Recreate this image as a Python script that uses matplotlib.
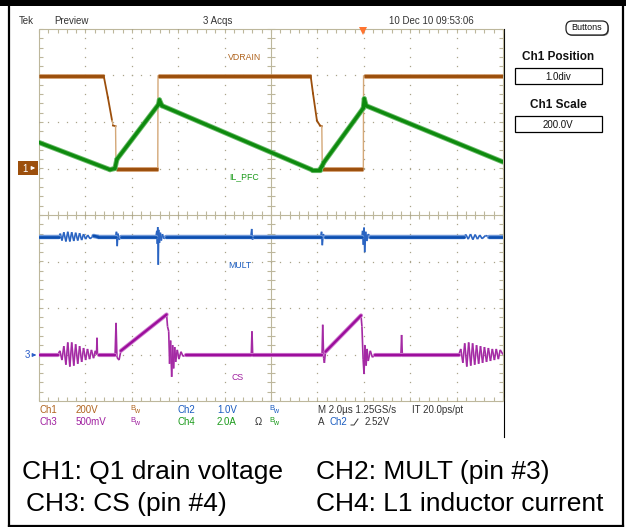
import numpy as np
import matplotlib
matplotlib.use("Agg")
import matplotlib.pyplot as plt
from matplotlib.patches import Rectangle, FancyBboxPatch
from matplotlib.collections import LineCollection

plt.rcParams['font.family'] = ['Liberation Sans', 'DejaVu Sans']

# ---- channel settings (scale per div, position in div) ----
ch_scale = {1: 200.0, 2: 1.0, 3: 0.5, 4: 2.0}
ch_pos = {1: 1.0, 2: -3.0, 3: -3.0, 4: 1.0}
trig_t = 13.98          # us, trigger point (Ch2 rising 2.52 V)

# ---- CH1 VDRAIN (V) ----
vd_t = [0.00, 2.79, 2.97, 3.15, 3.19, 3.30, 3.32, 5.12, 5.13, 11.71, 11.81, 11.98, 12.11, 12.19, 12.21, 13.98, 13.99, 20.00]
vd_v = [398, 398, 305, 206, 185, 182, 0, 0, 398, 398, 323, 206, 185, 182, 0, 0, 398, 398]

# ---- CH4 IL_PFC (A) ----
il_t = [0.00, 3.06, 3.27, 3.36, 5.15, 5.19, 5.30, 11.75, 12.10, 12.20, 12.27, 13.98, 14.02, 14.10, 20.00]
il_v = [1.12, -0.05, 0.00, 0.40, 2.75, 2.95, 2.70, -0.05, -0.05, 0.10, 0.25, 2.60, 3.00, 2.70, 0.28]

# ---- CH2 MULT (V) ----
mult_t = [0.00, 0.85, 0.92, 0.99, 1.07, 1.16, 1.24, 1.33, 1.41, 1.50, 1.58, 1.67, 1.75, 1.84, 1.92, 2.01, 2.10, 2.20, 2.35, 2.55,
          3.30, 3.34, 3.37, 3.40, 3.45, 3.55,
          5.04, 5.08, 5.10, 5.12, 5.14, 5.16, 5.19, 5.23, 5.27, 5.32, 5.38, 5.48,
          9.13, 9.17, 9.20, 9.25,
          12.14, 12.18, 12.21, 12.25, 12.32,
          13.92, 13.95, 13.98, 14.01, 14.04, 14.08, 14.13, 14.19, 14.28,
          18.30, 18.40, 18.50, 18.60, 18.70, 18.80, 18.90, 19.00, 19.10, 19.25, 19.40, 20.00]
mult_v = [2.53, 2.53, 2.60, 2.45, 2.63, 2.43, 2.64, 2.43, 2.63, 2.44, 2.62, 2.45, 2.61, 2.46, 2.59, 2.48, 2.57, 2.49, 2.55, 2.53,
          2.53, 2.64, 2.33, 2.60, 2.47, 2.53,
          2.53, 2.66, 2.38, 2.74, 1.93, 2.68, 2.40, 2.62, 2.45, 2.59, 2.49, 2.53,
          2.53, 2.70, 2.47, 2.53,
          2.53, 2.64, 2.35, 2.59, 2.53,
          2.53, 2.66, 2.36, 2.73, 2.20, 2.64, 2.44, 2.59, 2.53,
          2.53, 2.58, 2.48, 2.59, 2.47, 2.58, 2.48, 2.57, 2.49, 2.56, 2.53, 2.53]

# ---- CH3 CS (V) ----
cs_t = [0.00, 0.82, 0.90, 0.99, 1.07, 1.16, 1.24, 1.33, 1.41, 1.50, 1.58, 1.67, 1.75, 1.84, 1.92, 2.01, 2.09, 2.18, 2.26, 2.35, 2.43, 2.48, 2.50, 2.52, 2.60,
        3.28, 3.32, 3.36, 3.45, 3.53, 5.50, 5.54, 5.59, 5.63, 5.67, 5.72, 5.76, 5.80, 5.85, 5.89, 5.96, 6.03, 6.12, 6.21, 6.34,
        9.15, 9.18, 9.21,
        12.20, 12.23, 12.27, 12.30, 12.35, 13.88, 13.92, 13.97, 14.01, 14.05, 14.10, 14.14, 14.19, 14.28, 14.37, 14.50,
        15.60, 15.63, 15.66,
        18.10, 18.18, 18.27, 18.35, 18.44, 18.52, 18.61, 18.69, 18.78, 18.86, 18.95, 19.03, 19.12, 19.20, 19.29, 19.37, 19.46, 19.54, 19.63, 19.71, 19.80, 19.88, 20.00]
cs_v = [0.00, 0.00, 0.04, -0.06, 0.09, -0.11, 0.13, -0.13, 0.13, -0.12, 0.11, -0.10, 0.09, -0.08, 0.07, -0.06, 0.06, -0.05, 0.05, -0.04, 0.04, 0.00, 0.18, 0.00, 0.00,
        0.00, 0.34, -0.03, -0.06, 0.04, 0.43, 0.30, 0.25, -0.10, 0.15, -0.24, 0.10, -0.15, 0.08, -0.08, 0.05, -0.05, 0.03, -0.02, 0.00,
        0.00, 0.25, 0.00,
        0.00, 0.32, -0.04, -0.09, 0.03, 0.42, 0.30, -0.05, -0.21, 0.10, -0.12, 0.06, -0.07, 0.04, -0.03, 0.00,
        0.00, 0.21, 0.00,
        0.00, 0.06, -0.09, 0.12, -0.13, 0.13, -0.12, 0.12, -0.11, 0.10, -0.10, 0.09, -0.09, 0.08, -0.08, 0.07, -0.07, 0.06, -0.06, 0.06, -0.05, 0.05, 0.00]

# ---- readout / caption text ----
top_texts = [("Tek", 19), ("Preview", 54), ("3 Acqs", 203), ("10 Dec 10 09:53:06", 389)]
captions = [("CH1: Q1 drain voltage", 22, 479), ("CH2: MULT (pin #3)", 316, 479),
            ("CH3: CS (pin #4)", 26, 511), ("CH4: L1 inductor current", 316, 511)]

BROWN, BROWN_L, BROWN_E = '#9c4f0c', '#c98d58', '#d4a878'
GREEN, GREEN_L, GREEN_T = '#0e8a0e', '#6abb6a', '#2a9a2a'
BLUE, BLUE_L, BLUE_T = '#0b4eb0', '#7098d8', '#2a64c2'
PURP, PURP_L, PURP_T = '#9c0e9c', '#cf7ccf', '#a42aa4'
GRID = '#bdb79c'
TXT = '#333333'

W, H = 626, 527
fig = plt.figure(figsize=(W / 100, H / 100), dpi=100)

# overlay in pixel coordinates for frame, panel and labels
ov = fig.add_axes([0, 0, 1, 1])
ov.set_xlim(0, W); ov.set_ylim(H, 0); ov.axis('off')

# screen axes: 10 x 8 divisions, time in us
gx0, gx1, gy0, gy1 = 39, 503, 29, 401
ax = fig.add_axes([gx0 / W, (H - gy1) / H, (gx1 - gx0) / W, (gy1 - gy0) / H])
ax.set_xlim(0, 20); ax.set_ylim(-4, 4); ax.axis('off')
ax.patch.set_alpha(0)

def to_div(v, ch):
    return np.asarray(v, float) / ch_scale[ch] + ch_pos[ch]

# ---- graticule ----
px_x = 20 / (gx1 - gx0)
px_y = 8 / (gy1 - gy0)
minor_x = np.arange(0, 20.001, 0.4)
minor_y = np.arange(-4, 4.001, 0.2)
segs = []
for x in minor_x:
    segs += [[(x, -4 * px_y), (x, 4 * px_y)], [(x, 4), (x, 4 - 4 * px_y)], [(x, -4), (x, -4 + 4 * px_y)]]
for y in minor_y:
    segs += [[(10 - 4 * px_x, y), (10 + 4 * px_x, y)], [(0, y), (4 * px_x, y)], [(20, y), (20 - 4 * px_x, y)]]
segs += [[(0, 0), (20, 0)], [(10, -4), (10, 4)],
         [(0, -4), (20, -4)], [(0, 4), (20, 4)], [(0, -4), (0, 4)], [(20, -4), (20, 4)]]
ax.add_collection(LineCollection(segs, colors=GRID, linewidths=0.8, zorder=1, clip_on=False))
dots_x, dots_y = [], []
for xm in range(2, 20, 2):
    if xm != 10:
        dots_x += [xm] * len(minor_y); dots_y += list(minor_y)
for ym in range(-3, 4):
    if ym != 0:
        dots_x += list(minor_x); dots_y += [ym] * len(minor_x)
ax.plot(dots_x, dots_y, ls='none', marker='s', ms=0.9, mew=0, color='#aaa48a', zorder=1)

# ---- traces ----
def trace(t, d, core, halo, thin, lw, z, min_dt=0.15):
    # long segments carry the noise band, short ones (ringing / spikes) are single-sample lines
    t = np.asarray(t, float)
    pts = np.column_stack([t, d])
    sg = np.stack([pts[:-1], pts[1:]], axis=1)
    long = np.diff(t) >= min_dt
    ax.add_collection(LineCollection(sg[~long], colors=thin, linewidths=1.2, zorder=z))
    ax.add_collection(LineCollection(sg[long], colors=halo, linewidths=lw + 1.3, capstyle='round', zorder=z))
    ax.add_collection(LineCollection(sg[long], colors=core, linewidths=lw, capstyle='round', zorder=z + 0.5))

trace(cs_t, to_div(cs_v, 3), PURP, PURP_L, PURP_T, 1.7, 3)
trace(mult_t, to_div(mult_v, 2), BLUE, BLUE_L, BLUE_T, 1.9, 3)

vd_d = to_div(vd_v, 1)
for i in range(len(vd_t) - 1):
    ts, ds = vd_t[i:i + 2], vd_d[i:i + 2]
    if vd_v[i] == vd_v[i + 1]:
        ax.plot(ts, ds, color=BROWN_L, lw=3.3, solid_capstyle='butt', zorder=5)
        ax.plot(ts, ds, color=BROWN, lw=2.1, solid_capstyle='butt', zorder=6)
    elif vd_t[i + 1] - vd_t[i] < 0.05:
        ax.plot(ts, ds, color=BROWN_E, lw=1.0, zorder=5)
    else:
        ax.plot(ts, ds, color=BROWN, lw=1.3, zorder=5)

trace(il_t, to_div(il_v, 4), GREEN, GREEN_L, GREEN_T, 2.4, 7, min_dt=0.0)

ax.plot([trig_t], [4 - 2 * px_y], marker='v', ms=6, mew=0, color='#ff7430', clip_on=False, zorder=9)

# ---- frame ----
ov.add_patch(Rectangle((0, 0), W, 6, color='black', lw=0))
ov.plot([9, 9], [0, H], color='black', lw=1.6)
ov.plot([622.5, 622.5], [0, H], color='black', lw=1.6)
ov.plot([9, 623], [525.5, 525.5], color='black', lw=1.6)
ov.plot([504, 504], [gy0, 437], color='black', lw=0.8)

# ---- header ----
for s, x in top_texts:
    ov.text(x, 21, s, fontsize=7, color=TXT, va='center', ha='left')

ov.add_patch(FancyBboxPatch((567, 22), 42, 14, boxstyle='round,pad=0,rounding_size=6',
                            fc='#777777', ec='none', lw=0))
ov.add_patch(FancyBboxPatch((566, 21), 42, 14, boxstyle='round,pad=0,rounding_size=6',
                            fc='white', ec='#222222', lw=0.9))
ov.text(587, 28, "Buttons", fontsize=6.5, color='#111111', ha='center', va='center')
for y_lab, lab, y_box, val in [(57, "Ch1 Position", 68, "1.0div"), (105, "Ch1 Scale", 116, "200.0V")]:
    ov.text(558, y_lab, lab, fontsize=8.5, fontweight='bold', ha='center', va='center', color='#111111')
    ov.add_patch(Rectangle((515, y_box), 87, 16, fc='white', ec='black', lw=0.9))
    ov.text(558, y_box + 8.5, val, fontsize=7, ha='center', va='center', color='#111111')

# ---- channel labels and ground markers ----
ov.text(228, 58, "VDRAIN", fontsize=6.3, color='#b0641e', va='center')
ov.text(229, 177, "IL_PFC", fontsize=6.3, color='#1a9a1a', va='center')
ov.text(228, 266, "MULT", fontsize=6.3, color='#1a5cc0', va='center')
ov.text(231, 378, "CS", fontsize=6.3, color='#a020a0', va='center')

ov.add_patch(Rectangle((18, 161), 20, 14, color=BROWN, lw=0))
ov.text(25, 168.5, "1", fontsize=7, color='white', ha='center', va='center')
ov.annotate("", xy=(38, 168), xytext=(29, 168),
            arrowprops=dict(arrowstyle='-|>', color='white', lw=0.8, mutation_scale=5))
ov.text(27, 355, "3", fontsize=7, color='#2a5cc8', ha='center', va='center')
ov.annotate("", xy=(39, 355), xytext=(31, 355),
            arrowprops=dict(arrowstyle='-|>', color='#2a5cc8', lw=0.8, mutation_scale=5))

# ---- readouts ----
def bw(x, y, c):
    ov.text(x, y - 1, "B", fontsize=5.5, color=c, va='center')
    ov.text(x + 4.5, y + 1.5, "w", fontsize=5, color=c, va='center')

C1, C2, C3, C4 = '#b0641e', '#1a5cc0', '#a020a0', '#1a9a1a'
r1, r2 = 410, 422
for s, x, c in [("Ch1", 39, C1), ("200V", 76, C1), ("Ch2", 178, C2), ("1.0V", 217, C2),
                ("M 2.0\u00b5s 1.25GS/s", 318, TXT), ("IT 20.0ps/pt", 412, TXT)]:
    ov.text(x, r1, s, fontsize=7, color=c, va='center')
for s, x, c in [("Ch3", 39, C3), ("500mV", 76, C3), ("Ch4", 178, C4), ("2.0A", 217, C4),
                ("\u03a9", 255, TXT), ("A", 318, TXT), ("Ch2", 329, C2), ("2.52V", 365, TXT)]:
    ov.text(x, r2, s, fontsize=7, color=c, va='center')
bw(130, r1, C1); bw(269, r1, C2); bw(130, r2, C3); bw(269, r2, C4)
ov.plot([351, 354, 358], [425, 425, 419], color=TXT, lw=0.7)

# ---- captions ----
for s, x, y in captions:
    ov.text(x, y, s, fontsize=19, color='black', ha='left', va='baseline')

fig.savefig("out.png", dpi=100)
